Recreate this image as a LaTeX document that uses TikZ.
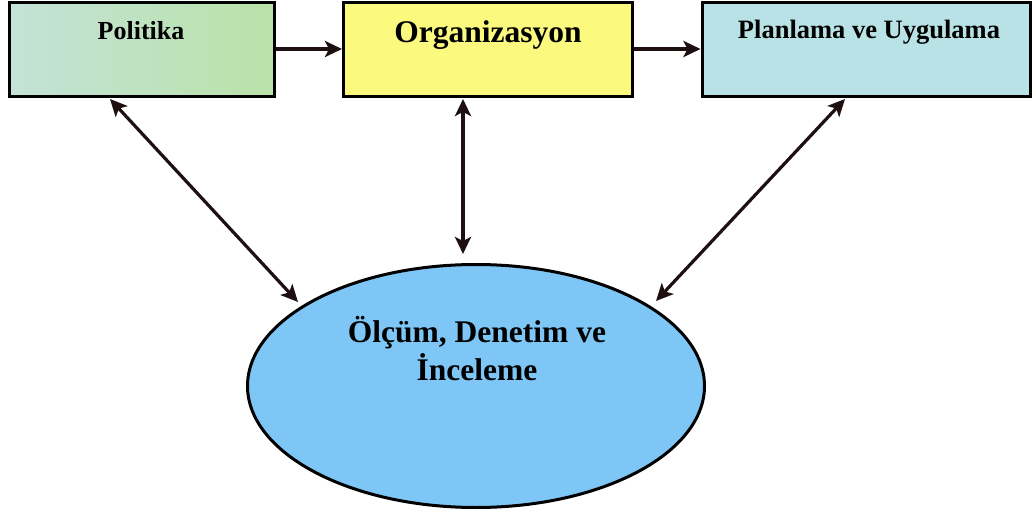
\documentclass[tikz,border=0pt]{standalone}
\usepackage{fontspec}
\setmainfont{Liberation Serif}
\usetikzlibrary{shapes.geometric,arrows.meta}
\definecolor{polA}{HTML}{C4E2D8}
\definecolor{polB}{HTML}{BAE2A8}
\definecolor{orgY}{HTML}{FBF97E}
\definecolor{plnC}{HTML}{B9E2E6}
\definecolor{ellB}{HTML}{7EC6F5}
\definecolor{lineC}{HTML}{1E1010}
\tikzset{
  box/.style={draw=black,line width=3pt,minimum height=94pt,inner sep=0pt},
  link/.style={draw=lineC,line width=3.2pt,-{Stealth[length=17pt,width=16pt,inset=4pt]}},
  dlink/.style={draw=lineC,line width=3.2pt,{Stealth[length=17pt,width=16pt,inset=4pt]}-{Stealth[length=17pt,width=16pt,inset=4pt]}}
}
\begin{document}
\begin{tikzpicture}[x=1pt,y=-1pt]
\useasboundingbox (0,0) rectangle (1034,513);
\fill[white] (0,0) rectangle (1034,513);
% top row of boxes
\node[box,minimum width=265pt,left color=polA,right color=polB] (pol) at (142,50) {};
\node[box,minimum width=289pt,fill=orgY] (org) at (488,50) {};
\node[box,minimum width=328pt,fill=plnC] (pln) at (866,50) {};
\node[font=\bfseries\fontsize{26}{30}\selectfont] at (141,31) {Politika};
\node[font=\bfseries\fontsize{31.5}{36}\selectfont] at (488,35) {Organizasyon};
\node[font=\bfseries\fontsize{26.5}{30}\selectfont] at (869,32) {Planlama ve Uygulama};
% lower ellipse
\node[ellipse,draw=black,line width=3pt,fill=ellB,minimum width=457pt,minimum height=243pt,inner sep=0pt] (ell) at (476,386) {};
\node[align=center,font=\bfseries\fontsize{31.5}{38}\selectfont] at (477,349) {Ölçüm, Denetim ve\\İnceleme};
% connectors
\draw[link] (pol.east |- 0,49) -- (org.west |- 0,49);
\draw[link] (org.east |- 0,49) -- (pln.west |- 0,49);
\coordinate (p1) at (110,99);
\coordinate (e1) at (298,302);
\coordinate (o1) at (463,99);
\coordinate (e2) at (463,254);
\coordinate (l1) at (845,99);
\coordinate (e3) at (656,301);
\draw[dlink] (p1) -- (e1);
\draw[dlink] (o1) -- (e2);
\draw[dlink] (l1) -- (e3);
\end{tikzpicture}
\end{document}
